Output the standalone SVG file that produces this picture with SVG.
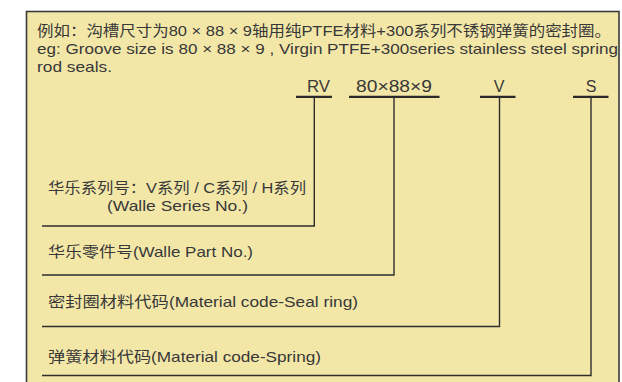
<svg xmlns="http://www.w3.org/2000/svg" width="622" height="382" viewBox="0 0 622 382">
<style>
.t{font-family:"Liberation Sans","Noto Sans CJK SC",sans-serif;font-size:14.5px;fill:#383838}
.k{font-family:"Liberation Sans","Noto Sans CJK SC",sans-serif;font-size:16px;fill:#383838}
.d{font-family:"Liberation Sans","Noto Sans CJK SC",sans-serif;font-size:14.5px;fill:#383838}
.ul{stroke:#2a2a2a;stroke-width:2.2;fill:none}
.c{stroke:#2e2e2e;stroke-width:1.4;fill:none}
</style>
<rect x="0" y="0" width="622" height="382" fill="#ffffff"/>
<rect id="frame" x="26.5" y="11.5" width="592.5" height="380" fill="#F3E7A8" stroke="#3a3a3a" stroke-width="1.6"/>
<g id="header">
<text class="t" x="37" y="36" textLength="574" lengthAdjust="spacingAndGlyphs">例如：沟槽尺寸为80 × 88 × 9轴用纯PTFE材料+300系列不锈钢弹簧的密封圈。</text>
<text class="t" x="37" y="54" textLength="581" lengthAdjust="spacingAndGlyphs">eg: Groove size is 80 × 88 × 9 , Virgin PTFE+300series stainless steel spring</text>
<text class="t" x="37" y="72" textLength="75" lengthAdjust="spacingAndGlyphs">rod seals.</text>
</g>
<g id="code-rv">
<text class="k" x="307" y="92" textLength="23" lengthAdjust="spacingAndGlyphs">RV</text>
<line class="ul" x1="296" y1="96.8" x2="332" y2="96.8"/>
</g>
<g id="code-size">
<text class="k" x="356" y="92" textLength="76" lengthAdjust="spacingAndGlyphs">80×88×9</text>
<line class="ul" x1="349" y1="96.8" x2="439.5" y2="96.8"/>
</g>
<g id="code-v">
<text class="k" x="499" y="92" text-anchor="middle">V</text>
<line class="ul" x1="480" y1="96.8" x2="515.5" y2="96.8"/>
</g>
<g id="code-s">
<text class="k" x="591" y="92" text-anchor="middle">S</text>
<line class="ul" x1="573" y1="96.8" x2="608.5" y2="96.8"/>
</g>
<g id="desc-series">
<text class="d" x="48" y="193" textLength="258" lengthAdjust="spacingAndGlyphs">华乐系列号：V系列 / C系列 / H系列</text>
<text class="d" x="107" y="211" textLength="141" lengthAdjust="spacingAndGlyphs">(Walle Series No.)</text>
</g>
<g id="desc-part">
<text class="d" x="48" y="257" textLength="205" lengthAdjust="spacingAndGlyphs">华乐零件号(Walle Part No.)</text>
</g>
<g id="desc-seal">
<text class="d" x="48" y="307" textLength="310" lengthAdjust="spacingAndGlyphs">密封圈材料代码(Material code-Seal ring)</text>
</g>
<g id="desc-spring">
<text class="d" x="48" y="362" textLength="273" lengthAdjust="spacingAndGlyphs">弹簧材料代码(Material code-Spring)</text>
</g>
<g id="connectors">
<polyline class="c" points="314.3,97 314.3,226 42,226"/>
<polyline class="c" points="394,97 394,275 42,275"/>
<polyline class="c" points="499.5,97 499.5,326.5 42,326.5"/>
<polyline class="c" points="591,97 591,375.5 42,375.5"/>
</g>
</svg>
